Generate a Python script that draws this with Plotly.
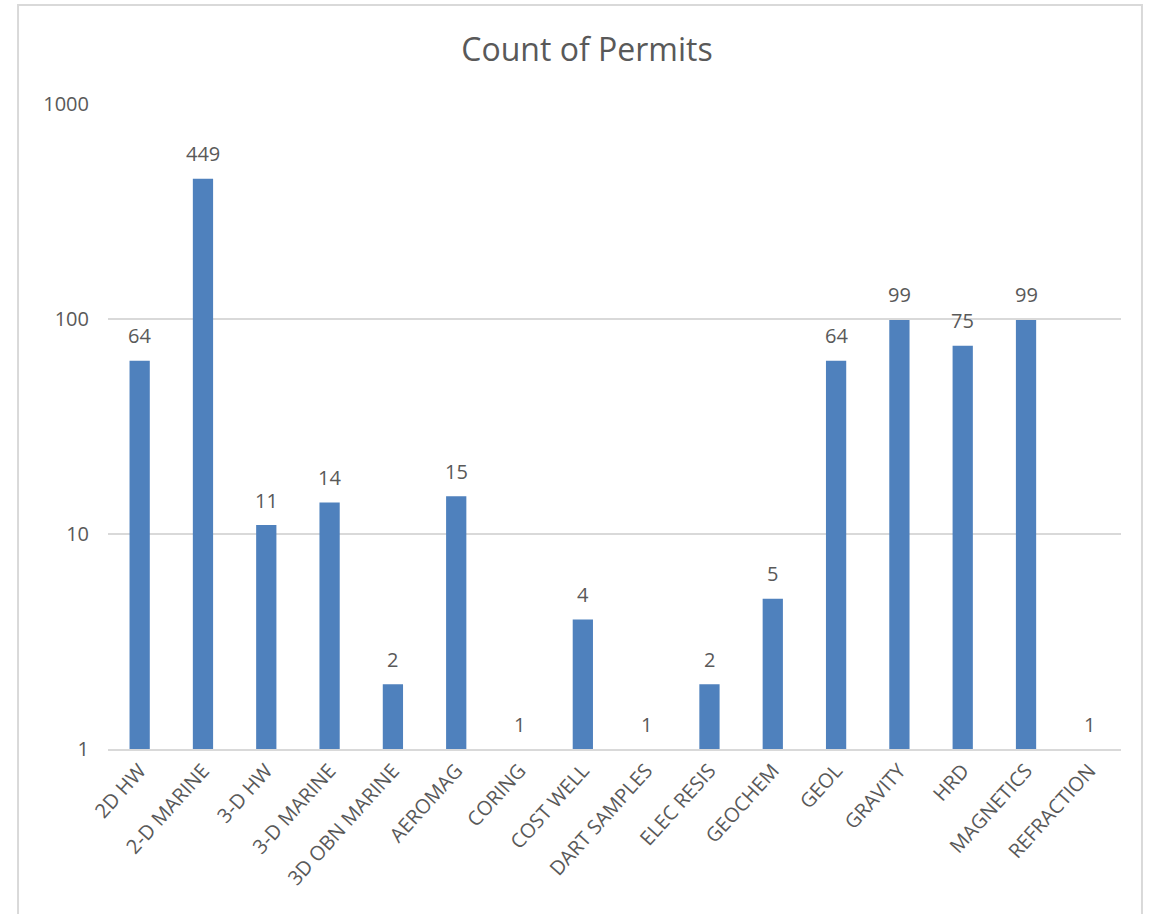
import math
import plotly.graph_objects as go

categories = ["2D HW", "2-D MARINE", "3-D HW", "3-D MARINE", "3D OBN MARINE",
              "AEROMAG", "CORING", "COST WELL", "DART SAMPLES", "ELEC RESIS",
              "GEOCHEM", "GEOL", "GRAVITY", "HRD", "MAGNETICS", "REFRACTION"]
permit_counts = [64, 449, 11, 14, 2, 15, 1, 4, 1, 2, 5, 64, 99, 75, 99, 1]
y_tick_values = [1, 10, 100, 1000]
y_tick_labels = ["1", "10", "100", "1000"]

FONT = "Open Sans"
GREY_TEXT = "#595959"
GRID = "#d9d9d9"

fig = go.Figure(
    go.Bar(
        x=categories,
        y=permit_counts,
        base=0,
        marker=dict(color="#4f81bd", line=dict(width=0)),
        cliponaxis=False,
        hoverinfo="x+y",
    )
)

# value labels sitting a little above each bar top (log axis -> log10 position)
value_labels = [
    dict(
        x=cat,
        y=math.log10(val),
        xref="x",
        yref="y",
        text=str(val),
        showarrow=False,
        yanchor="middle",
        yshift=25,
        font=dict(family=FONT, size=20, color=GREY_TEXT),
    )
    for cat, val in zip(categories, permit_counts)
]

fig.update_layout(
    width=1156,
    height=914,
    margin=dict(l=108, r=35, t=104, b=165),
    paper_bgcolor="white",
    plot_bgcolor="white",
    bargap=0.68,
    showlegend=False,
    annotations=value_labels,
    title=dict(
        text="Count of Permits",
        font=dict(family=FONT, size=32, color=GREY_TEXT),
        x=587 / 1156,
        xref="container",
        xanchor="center",
        y=1 - 50 / 914,
        yref="container",
        yanchor="middle",
    ),
    xaxis=dict(
        type="category",
        tickangle=-48,
        tickfont=dict(family=FONT, size=20, color=GREY_TEXT),
        showgrid=False,
        showline=True,
        linecolor=GRID,
        linewidth=2,
        ticks="",
        fixedrange=True,
    ),
    yaxis=dict(
        type="log",
        range=[0, 3],
        tickvals=y_tick_values,
        ticktext=y_tick_labels,
        tickfont=dict(family=FONT, size=20, color=GREY_TEXT),
        showgrid=True,
        gridcolor=GRID,
        gridwidth=2,
        zeroline=False,
        showline=False,
        ticks="",
        ticklabelstandoff=18,
        fixedrange=True,
    ),
    shapes=[
        # outer chart frame
        dict(
            type="rect",
            xref="paper",
            yref="paper",
            x0=-0.0888,
            x1=1.0207,
            y0=-0.27,
            y1=1.1535,
            line=dict(color=GRID, width=2),
            fillcolor="rgba(0,0,0,0)",
            layer="below",
        ),
    ],
)

fig.write_html("out.html")
